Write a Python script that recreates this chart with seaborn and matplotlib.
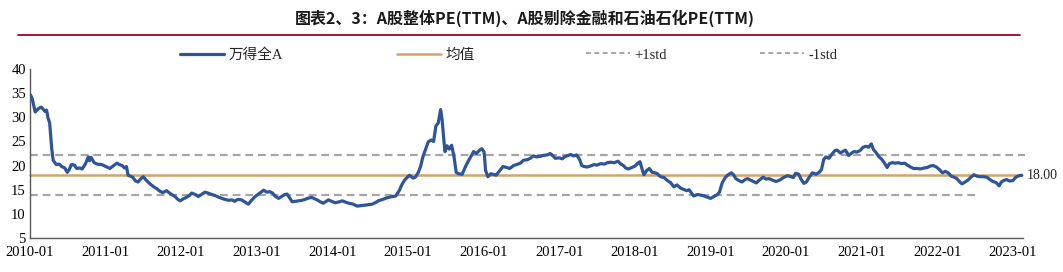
import matplotlib
matplotlib.use("Agg")
import matplotlib.pyplot as plt
import matplotlib.dates as mdates
from matplotlib.lines import Line2D
import numpy as np
import pandas as pd
import seaborn as sns

# ---------------- data ----------------
dates = [
    "2010-01-04","2010-01-12","2010-01-26","2010-02-10","2010-02-25","2010-03-15","2010-03-22","2010-03-29",
    "2010-04-06","2010-04-16","2010-04-23","2010-05-08","2010-05-22","2010-06-03","2010-06-18","2010-06-30",
    "2010-07-10","2010-07-20","2010-08-04","2010-08-15","2010-08-30","2010-09-10","2010-09-25","2010-10-10",
    "2010-10-16","2010-10-23","2010-11-07","2010-11-22","2010-12-14",
    "2011-01-08","2011-01-22","2011-02-03","2011-02-25","2011-03-10","2011-03-22","2011-04-02","2011-04-12",
    "2011-04-20","2011-05-12","2011-05-26","2011-06-07","2011-06-21","2011-07-02","2011-07-20","2011-08-04",
    "2011-08-22","2011-09-06","2011-09-20","2011-10-04","2011-10-23","2011-11-06","2011-11-21","2011-12-02",
    "2011-12-16","2011-12-28",
    "2012-01-11","2012-01-26","2012-02-10","2012-02-21","2012-03-10","2012-03-24","2012-04-08","2012-04-26",
    "2012-05-10","2012-05-29","2012-06-13","2012-06-28","2012-07-16","2012-07-31","2012-08-18","2012-09-02",
    "2012-09-16","2012-10-01","2012-10-19","2012-11-03","2012-11-21","2012-12-06","2012-12-24",
    "2013-01-12","2013-02-03","2013-02-18","2013-03-04","2013-03-18","2013-04-01","2013-04-16","2013-05-01",
    "2013-05-16","2013-05-27","2013-06-10","2013-06-21","2013-07-06","2013-07-20","2013-08-07","2013-08-22",
    "2013-09-09","2013-09-24","2013-10-08","2013-10-19","2013-11-03","2013-11-18","2013-12-02","2013-12-13",
    "2014-01-02","2014-01-16","2014-02-03","2014-02-18","2014-03-07","2014-03-22","2014-04-12","2014-05-01",
    "2014-05-19","2014-06-03","2014-06-25","2014-07-12","2014-07-27","2014-08-11","2014-09-02","2014-09-20",
    "2014-10-08","2014-11-03","2014-11-21","2014-12-02","2014-12-16",
    "2015-01-08","2015-01-26","2015-02-06","2015-02-20","2015-03-03","2015-03-14","2015-03-28","2015-04-09",
    "2015-04-23","2015-05-05","2015-05-16","2015-05-27","2015-06-08","2015-06-15","2015-06-22","2015-06-29",
    "2015-07-09","2015-07-20","2015-07-31","2015-08-11","2015-08-22","2015-09-02","2015-09-20","2015-10-04",
    "2015-10-19","2015-11-03","2015-11-14","2015-11-28","2015-12-13","2015-12-24",
    "2016-01-04","2016-01-11","2016-01-22","2016-02-06","2016-02-17","2016-03-02","2016-03-20","2016-04-04",
    "2016-04-22","2016-05-07","2016-05-25","2016-06-09","2016-06-27","2016-07-12","2016-07-30","2016-08-14",
    "2016-08-29","2016-09-13","2016-10-01","2016-10-16","2016-11-03","2016-11-18","2016-12-02","2016-12-13",
    "2017-01-01","2017-01-16","2017-01-30","2017-02-14","2017-02-25","2017-03-11","2017-03-26","2017-04-09",
    "2017-04-20","2017-05-01","2017-05-16","2017-05-31","2017-06-18","2017-07-02","2017-07-20","2017-08-07",
    "2017-08-22","2017-09-06","2017-09-24","2017-10-12","2017-10-23","2017-11-07","2017-11-18","2017-12-02",
    "2017-12-17",
    "2018-01-02","2018-01-16","2018-01-26","2018-02-07","2018-02-14","2018-02-28","2018-03-12","2018-03-26",
    "2018-04-09","2018-04-20","2018-05-05","2018-05-23","2018-06-07","2018-06-22","2018-07-09","2018-07-24",
    "2018-08-08","2018-08-22","2018-09-09","2018-09-20","2018-10-04","2018-10-12","2018-10-30","2018-11-14",
    "2018-12-02","2018-12-20",
    "2019-01-02","2019-01-19","2019-02-04","2019-02-14","2019-02-28","2019-03-14","2019-03-25","2019-04-12",
    "2019-04-23","2019-05-04","2019-05-19","2019-06-03","2019-06-18","2019-06-29","2019-07-14","2019-08-01",
    "2019-08-11","2019-08-26","2019-09-13","2019-09-28","2019-10-12","2019-10-27","2019-11-14","2019-12-02",
    "2019-12-20",
    "2020-01-08","2020-01-26","2020-02-06","2020-02-17","2020-03-03","2020-03-14","2020-03-28","2020-04-09",
    "2020-04-20","2020-05-08","2020-05-26","2020-06-10","2020-06-21","2020-07-02","2020-07-13","2020-07-27",
    "2020-08-11","2020-08-25","2020-09-05","2020-09-20","2020-10-01","2020-10-15","2020-10-30","2020-11-14",
    "2020-11-25","2020-12-09","2020-12-24",
    "2021-01-08","2021-01-22","2021-02-03","2021-02-17","2021-02-27","2021-03-10","2021-03-24","2021-04-08",
    "2021-04-20","2021-05-04","2021-05-15","2021-05-30","2021-06-13","2021-06-28","2021-07-12","2021-07-27",
    "2021-08-10","2021-08-25","2021-09-09","2021-09-27","2021-10-12","2021-10-30","2021-11-14","2021-11-28",
    "2021-12-13","2021-12-28",
    "2022-01-11","2022-01-26","2022-02-09","2022-02-23","2022-03-10","2022-03-24","2022-04-06","2022-04-20",
    "2022-05-01","2022-05-16","2022-05-30","2022-06-13","2022-06-28","2022-07-12","2022-07-27","2022-08-11",
    "2022-08-29","2022-09-13","2022-09-27","2022-10-12","2022-10-27","2022-11-07","2022-11-18","2022-12-02",
    "2022-12-16",
    "2023-01-02","2023-01-16","2023-01-30","2023-02-14",
]
pe_wind_all_a = [
    34.6,33.8,31.1,31.8,32.1,31.2,31.5,29.9,
    28.8,23.5,21.1,20.2,20.3,19.8,19.5,18.6,
    19.2,20.2,20.1,19.4,19.5,19.3,20.3,21.8,
    21.0,21.7,20.6,20.3,20.2,
    19.7,19.4,19.8,20.5,20.2,20.0,19.5,19.8,
    18.0,17.6,16.8,16.6,17.3,17.7,16.8,16.2,
    15.6,15.2,14.7,14.4,14.8,14.3,13.9,13.6,
    13.0,12.7,
    13.1,13.4,13.8,14.3,14.0,13.6,14.0,14.5,
    14.3,14.0,13.8,13.5,13.2,13.0,12.8,12.9,
    12.6,13.0,12.9,12.5,12.0,12.8,13.6,
    14.2,14.9,14.5,14.6,14.3,13.6,13.2,13.6,
    14.0,14.1,13.2,12.5,12.6,12.7,12.8,13.0,
    13.3,13.4,13.1,12.9,12.5,12.2,12.6,12.9,
    12.5,12.3,12.5,12.7,12.4,12.2,12.0,11.6,
    11.7,11.8,11.9,12.0,12.3,12.7,13.0,13.3,
    13.5,13.7,14.9,16.0,17.0,
    18.0,17.4,17.6,18.6,19.8,21.8,23.5,24.9,
    25.3,25.0,28.2,28.8,31.6,29.5,26.0,22.9,
    24.1,23.4,24.2,22.0,18.6,18.3,18.2,19.6,
    20.9,22.0,22.9,22.5,23.2,23.5,
    22.8,19.0,17.7,18.3,18.2,18.0,19.0,19.8,
    19.6,19.4,20.0,20.2,20.5,21.1,21.2,21.5,
    22.0,21.8,21.9,22.1,22.2,22.5,22.0,21.5,
    21.6,21.4,21.9,22.1,22.3,22.0,22.2,21.3,
    20.0,19.8,19.7,19.9,20.2,20.1,20.4,20.3,
    20.6,20.7,20.6,20.9,20.4,20.0,19.5,19.3,
    19.6,
    19.9,20.5,20.8,19.0,18.1,19.0,19.4,18.6,
    18.5,18.3,17.7,17.5,16.9,16.5,15.6,16.0,
    15.4,15.1,14.8,15.0,14.2,13.7,14.0,13.9,
    13.7,13.4,
    13.2,13.6,14.0,14.5,16.5,17.5,18.0,18.5,
    18.1,17.3,16.9,16.6,17.1,17.3,17.0,16.6,
    16.4,17.0,17.6,17.2,17.3,17.0,16.7,17.0,
    17.5,
    17.9,17.7,17.5,18.4,18.2,17.2,16.3,16.6,
    17.4,18.5,18.2,18.6,19.2,21.3,21.8,21.5,
    22.4,23.1,23.2,22.6,22.9,23.2,22.1,22.6,
    22.9,22.8,23.1,
    23.8,24.0,23.8,24.5,23.3,22.8,21.9,21.3,
    20.6,19.6,20.4,20.6,20.5,20.6,20.4,20.5,
    20.1,19.7,19.4,19.4,19.3,19.5,19.6,19.9,
    20.0,19.7,
    19.2,18.5,18.8,18.5,17.8,17.6,17.3,16.6,
    16.2,16.6,17.0,17.6,18.1,17.8,17.7,17.7,
    17.6,17.1,16.7,16.5,15.8,16.6,16.9,17.1,
    16.8,
    16.9,17.6,17.9,18.0,
]
mean_value = 18.00
plus_std = 22.1
minus_std = 14.0
line_start = "2010-01-01"
mean_end = "2023-02-14"
plus_std_end = "2023-03-01"
minus_std_end = "2022-07-20"
x_tick_years = list(range(2010, 2024))
title_text = "图表2、3：A股整体PE(TTM)、A股剔除金融和石油石化PE(TTM)"
series_label = "万得全A"
mean_label = "均值"
plus_label = "+1std"
minus_label = "-1std"

# ---------------- styling ----------------
sns.set_theme(style="white")
plt.rcParams['font.family'] = ['Liberation Serif', 'Noto Sans CJK SC', 'DejaVu Sans']

BLUE = "#2E5597"
GOLD = "#D0A46A"
GRAY = "#A6A6A6"

df = pd.DataFrame({"date": pd.to_datetime(dates), "pe": pe_wind_all_a})

W, H = 1063, 272
fig = plt.figure(figsize=(W / 100, H / 100), dpi=100)
x0 = pd.Timestamp("2010-01-01")
x1 = pd.Timestamp("2023-02-20")
px_per_year = 75.6
span_years = (x1 - x0).days / 365.25
ax_left = 30
ax_w = span_years * px_per_year
ax = fig.add_axes([ax_left / W, (H - 238) / H, ax_w / W, 169 / H])

# std/mean lines
ax.plot([pd.Timestamp(line_start), pd.Timestamp(plus_std_end)], [plus_std, plus_std],
        color=GRAY, lw=1.6, dashes=(3.5, 2.2), clip_on=False, zorder=1)
ax.plot([pd.Timestamp(line_start), pd.Timestamp(minus_std_end)], [minus_std, minus_std],
        color=GRAY, lw=1.6, dashes=(3.5, 2.2), clip_on=False, zorder=1)
ax.plot([pd.Timestamp(line_start), pd.Timestamp(mean_end)], [mean_value, mean_value],
        color=GOLD, lw=1.8, clip_on=False, zorder=2)

sns.lineplot(data=df, x="date", y="pe", ax=ax, color=BLUE, lw=2.3, zorder=3, legend=False)

ax.set_xlim(x0, x1)
ax.set_ylim(5, 40)
ax.set_yticks(range(5, 41, 5))
ax.set_xticks([pd.Timestamp(f"{y}-01-01") for y in x_tick_years])
ax.xaxis.set_major_formatter(mdates.DateFormatter("%Y-%m"))
ax.set_xlabel("")
ax.set_ylabel("")
for s in ["top", "right"]:
    ax.spines[s].set_visible(False)
for s in ["left", "bottom"]:
    ax.spines[s].set_color("#595959")
    ax.spines[s].set_linewidth(1.0)
ax.tick_params(axis="both", direction="in", length=4, width=1.0, color="#595959",
               labelsize=10.5, labelcolor="#000000")
ax.tick_params(axis="x", pad=6)
ax.tick_params(axis="y", pad=3)
ax.grid(False)

ax.annotate(f"{mean_value:.2f}", xy=(pd.Timestamp(mean_end), mean_value), xytext=(3.5, 0),
            textcoords="offset points", va="center", ha="left", fontsize=10,
            annotation_clip=False)

# title and red rule
fig.text(525 / W, 1 - 18 / H, title_text, ha="center", va="center", fontsize=11.5,
         fontweight="bold", family=['Noto Sans CJK SC', 'DejaVu Sans'], color="#1a1a1a")
fig.add_artist(Line2D([18 / W, 1020 / W], [1 - 35 / H, 1 - 35 / H], color="#A50021", lw=1.3,
                      transform=fig.transFigure))

# legend entries placed individually
entries = [
    (Line2D([], [], color=BLUE, lw=2.3), series_label, 180),
    (Line2D([], [], color=GOLD, lw=1.8), mean_label, 397),
    (Line2D([], [], color=GRAY, lw=1.4, dashes=(2.5, 1.8)), plus_label, 586),
    (Line2D([], [], color=GRAY, lw=1.4, dashes=(2.5, 1.8)), minus_label, 760),
]
for h, lab, xp in entries:
    fig.legend([h], [lab], loc="center left", bbox_to_anchor=(xp / W, 1 - 55 / H),
               frameon=False, fontsize=10.5, handlelength=3.0, handletextpad=0.3,
               borderpad=0, borderaxespad=0)

fig.savefig("out.png", dpi=100)
